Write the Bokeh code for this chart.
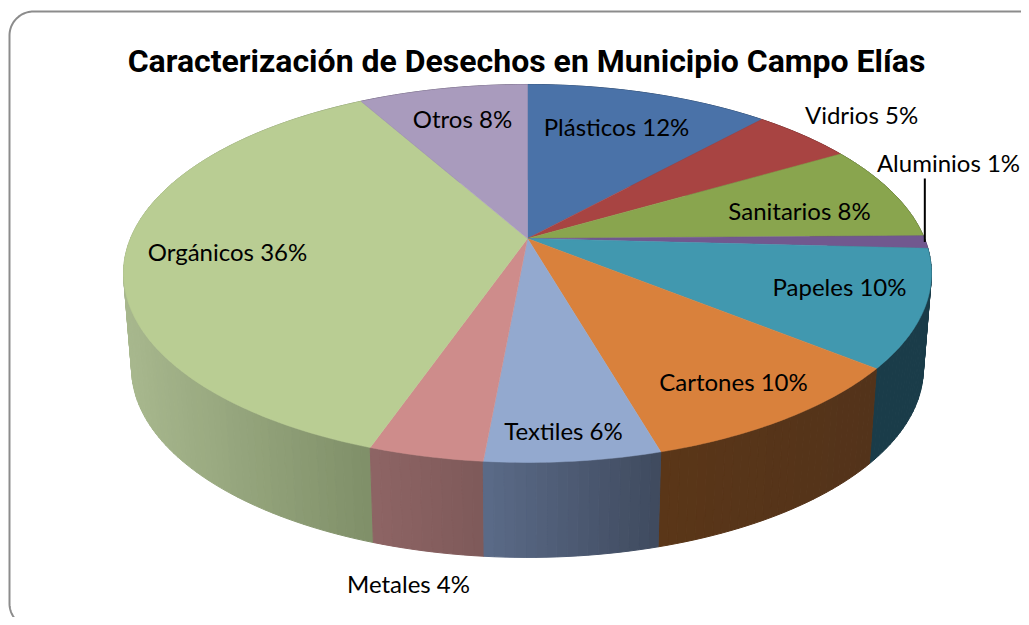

import numpy as np
from bokeh.plotting import figure
from bokeh.embed import file_html
from bokeh.resources import INLINE
from bokeh.core.properties import value

title = "Caracterización de Desechos en Municipio Campo Elías"
categories = ["Plásticos", "Vidrios", "Sanitarios", "Aluminios", "Papeles", "Cartones", "Textiles", "Metales", "Orgánicos", "Otros"]
shares = [11.7, 4.85, 8.2, 1.1, 10.0, 9.7, 5.9, 3.85, 36.6, 8.1]
percent_labels = [12, 5, 8, 1, 10, 10, 6, 4, 36, 8]
top_colors = ["#4A72A8", "#A84442", "#89A54E", "#71588F", "#4198AF", "#D9813C", "#93A9CF", "#CE8C8B", "#B9CD93", "#A99BBD"]
side_left = ["#2C4463", "#652928", "#526330", "#443555", "#1A3C49", "#5A3618", "#5B6B88", "#8E6464", "#A8B88E", "#665C72"]
side_right = ["#2C4463", "#652928", "#526330", "#443555", "#1A3C49", "#53331A", "#3F4A5E", "#7E5959", "#7F8F68", "#665C72"]
label_pos = [(616, 126), (861, 114), (799, 210), (948, 162), (839, 286), (733, 381), (563, 430), (408, 583), (227, 251), (462, 118)]

CX, CY, A, B, K, DEPTH, SHRINK = 527.0, 238.0, 182.5, 397.0, 0.185, 95.0, 0.98

def rim(theta):
    u, v = np.sin(theta), np.cos(theta)
    w = 1 + K * v
    return CX + B * u / w, CY - A * v / w

def blend(c1, c2, t):
    a = [int(c1[i:i+2], 16) for i in (1, 3, 5)]
    b = [int(c2[i:i+2], 16) for i in (1, 3, 5)]
    return "#%02x%02x%02x" % tuple(round(a[i] + (b[i] - a[i]) * t) for i in range(3))

p = figure(width=1021, height=617, x_range=(0, 1021), y_range=(617, 0),
           output_backend="svg", toolbar_location=None, min_border=0,
           outline_line_color=None, background_fill_color="white", border_fill_color="white")
p.axis.visible = False
p.grid.visible = False

# frame
R = 24.0
t = np.linspace(0, np.pi / 2, 24)
fx = np.r_[1060, 9 + R - R * np.sin(t), 9 + R - R * np.cos(t), 1060]
fy = np.r_[11, 11 + R - R * np.cos(t), 627 - R + R * np.sin(t), 627]
p.line(fx, fy, line_color="#8C8C8C", line_width=2)

edges = np.cumsum([0] + shares) / sum(shares) * 2 * np.pi

# sides: shade runs left to right across the visible (front) part of each slice
xs, ys, cols = [], [], []
for i in range(len(shares)):
    n = max(3, int(shares[i] * 3))
    th = np.linspace(edges[i], edges[i + 1], n + 1)
    rx, ry = rim(th)
    front = np.cos(th) < 0.15
    lo, hi = (rx[front].min(), rx[front].max()) if front.any() else (rx.min(), rx.max())
    for j in range(n):
        x0, y0, x1, y1 = rx[j], ry[j], rx[j + 1], ry[j + 1]
        bx0 = CX + (x0 - CX) * SHRINK; bx1 = CX + (x1 - CX) * SHRINK
        xs.append([x0, x1, bx1, bx0]); ys.append([y0, y1, y1 + DEPTH, y0 + DEPTH])
        f = np.clip(((x0 + x1) / 2 - lo) / max(hi - lo, 1), 0, 1)
        cols.append(blend(side_left[i], side_right[i], f))
order = sorted(range(len(xs)), key=lambda q: max(ys[q]))
p.patches([xs[q] for q in order], [ys[q] for q in order], fill_color=[cols[q] for q in order],
          line_color=[cols[q] for q in order], line_width=1)

# top faces
tx, ty = [], []
for i in range(len(shares)):
    th = np.linspace(edges[i], edges[i + 1], max(4, int(shares[i] * 4)))
    x, y = rim(th)
    tx.append(np.r_[CX, x].tolist()); ty.append(np.r_[CY, y].tolist())
p.patches(tx, ty, fill_color=top_colors, line_color=top_colors, line_width=0.5)

# leader for the smallest slice
ali = categories.index("Aluminios")
lx, ly = rim((edges[ali] + edges[ali + 1]) / 2)
p.line([lx - 1, lx - 1], [178, ly], line_color="black", line_width=2)

labels = [f"{c} {s}%" for c, s in zip(categories, percent_labels)]
p.text([q[0] for q in label_pos], [q[1] for q in label_pos], text=labels, text_font=value("Lato"),
       text_font_size="24px", text_color="black", text_align="center", text_baseline="middle")
p.text([526], [60], text=[title], text_font=value("Roboto"), text_font_style="bold",
       text_font_size="32px", text_color="black", text_align="center", text_baseline="middle")

open("out.html", "w").write(file_html(p, INLINE))
